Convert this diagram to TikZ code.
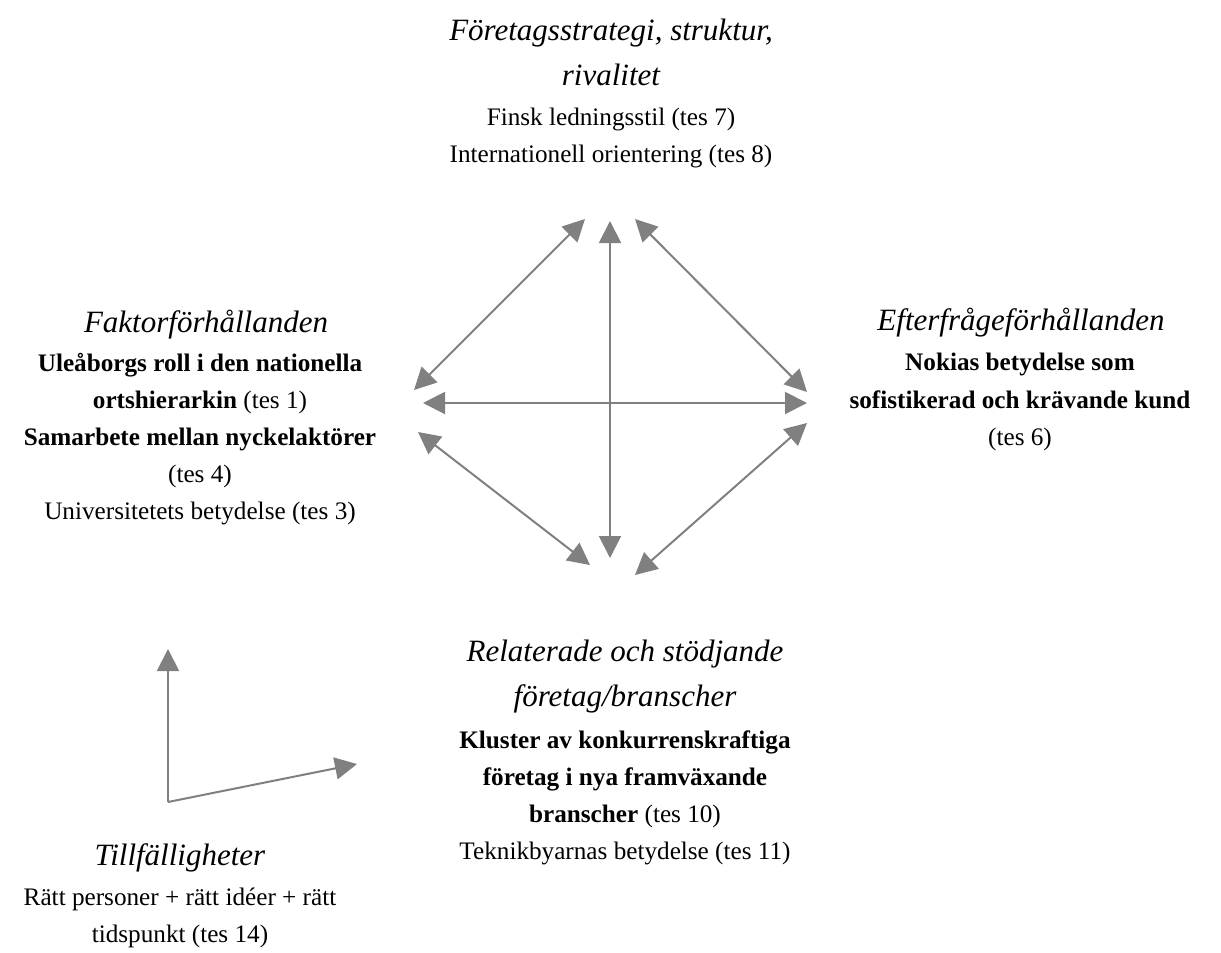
\documentclass[tikz,border=0pt]{standalone}
\usepackage{fontspec}
\setmainfont{Liberation Serif}
\usetikzlibrary{arrows.meta}
\tikzset{
  rel/.style={draw=gray,line width=1pt,{Triangle[length=11pt,width=11pt]}-{Triangle[length=11pt,width=11pt]}},
  one/.style={draw=gray,line width=1pt,-{Triangle[length=11pt,width=11pt]}},
  ttl/.style={align=center,inner sep=0pt,font=\itshape\fontsize{15.5}{22.5}\selectfont},
  txt/.style={align=center,inner sep=0pt,font=\fontsize{12.6}{18.6}\selectfont}
}
\begin{document}
\begin{tikzpicture}[x=0.5pt,y=-0.5pt]
				\useasboundingbox (0,0) rectangle (1221,953);
				% faktorerna
				\node[ttl] (strT) at (611,52) {Företagsstrategi, struktur,\\rivalitet};
				\node[txt] (strB) at (611,138) {Finsk ledningsstil (tes 7)\\Internationell orientering (tes 8)};
				\node[ttl] (fakT) at (206,325) {Faktorförhållanden};
				\node[txt] (fakB) at (200,439) {\textbf{Uleåborgs roll i den nationella}\\\textbf{ortshierarkin} (tes 1)\\\textbf{Samarbete mellan nyckelaktörer}\\(tes 4)\\Universitetets betydelse (tes 3)};
				\node[ttl] (eftT) at (1021,323) {Efterfrågeförhållanden};
				\node[txt] (eftB) at (1020,402) {\textbf{Nokias betydelse som}\\\textbf{sofistikerad och krävande kund}\\(tes 6)};
				\node[ttl] (relT) at (625,677) {Relaterade och stödjande\\företag/branscher};
				\node[txt] (relB) at (625,798) {\textbf{Kluster av konkurrenskraftiga}\\\textbf{företag i nya framväxande}\\\textbf{branscher} (tes 10)\\Teknikbyarnas betydelse (tes 11)};
				\node[ttl] (tilT) at (180,858) {Tillfälligheter};
				\node[txt] (tilB) at (180,918) {Rätt personer + rätt idéer + rätt\\tidspunkt (tes 14)};
				% pilarnas ändpunkter
				\coordinate (a1) at (414,390); \coordinate (a2) at (585,219);
				\coordinate (b1) at (610,221); \coordinate (b2) at (610,558);
				\coordinate (c1) at (635,219); \coordinate (c2) at (807,392);
				\coordinate (d1) at (423,403); \coordinate (d2) at (807,403);
				\coordinate (e1) at (418,432); \coordinate (e2) at (590,565);
				\coordinate (f1) at (807,423); \coordinate (f2) at (635,575);
				\coordinate (o) at (168,802); \coordinate (up) at (168,649); \coordinate (ri) at (357,764);
				\draw[rel] (a1)--(a2);
				\draw[rel] (b1)--(b2);
				\draw[rel] (c1)--(c2);
				\draw[rel] (d1)--(d2);
				\draw[rel] (e1)--(e2);
				\draw[rel] (f1)--(f2);
				\draw[one] (o)--(up);
				\draw[one] (o)--(ri);
\end{tikzpicture}
\end{document}
